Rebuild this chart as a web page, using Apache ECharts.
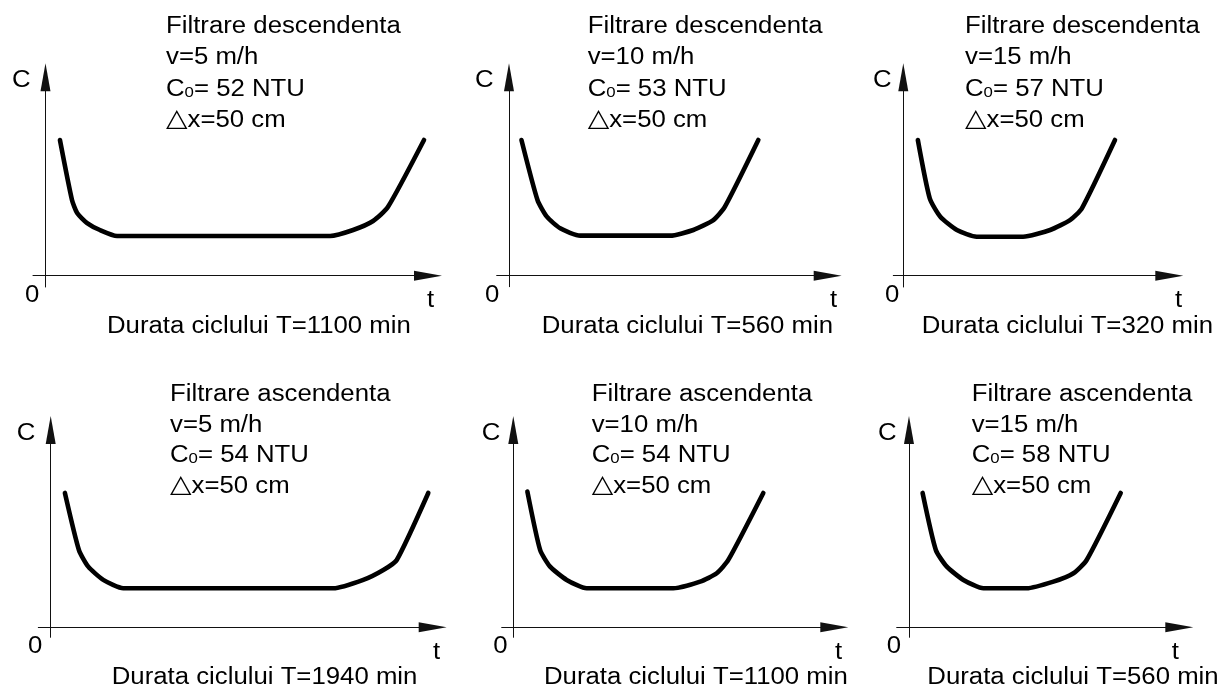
<!DOCTYPE html>
<html>
<head>
<meta charset="utf-8">
<script src="https://cdn.jsdelivr.net/npm/echarts@6/dist/echarts.min.js"></script>
<style>
html,body{margin:0;padding:0;background:#fff;}
#chart{width:1227px;height:688px;}
</style>
</head>
<body>
<div id="chart"></div>
<script>
// ---------- data ----------
const titles = ['Filtrare descendenta', 'Filtrare descendenta', 'Filtrare descendenta',
                'Filtrare ascendenta', 'Filtrare ascendenta', 'Filtrare ascendenta'];
const velocity = [5, 10, 15, 5, 10, 15];          // m/h
const c0 = [52, 53, 57, 54, 54, 58];              // NTU
const layerDepth = [50, 50, 50, 50, 50, 50];      // cm
const cycleT = [1100, 560, 320, 1940, 1100, 560]; // min
const axisNameY = 'C';
const axisNameX = 't';
const originLabel = '0';

// filtrate turbidity curves (t in min, C relative units)
const curveT = [
  [42, 77, 92, 121, 158, 208, 827, 894, 952, 995, 1100],
  [28, 64, 85, 115, 160, 362, 414, 459, 485, 560],
  [22, 40, 56, 81, 111, 181, 222, 252, 270, 320],
  [73, 145, 193, 270, 373, 1452, 1606, 1709, 1778, 1940],
  [62, 118, 162, 235, 323, 704, 822, 895, 946, 1100],
  [36, 71, 100, 144, 197, 311, 382, 435, 470, 560]
];
const curveC = [
  [100, 55.8, 46.2, 38.8, 33.7, 29.3, 29.3, 33.7, 40.3, 50.6, 100],
  [100, 55.8, 43.5, 34.9, 29.5, 29.5, 33.7, 41, 50.9, 100],
  [100, 57, 43.5, 33.7, 28.7, 28.7, 33.7, 41, 49.7, 100],
  [99, 57, 44.7, 34.9, 28.7, 28.7, 34.9, 42.2, 49.6, 99],
  [100, 57, 44.7, 34.9, 28.7, 28.7, 33.6, 39.8, 49.6, 99],
  [99, 57, 44.7, 34.9, 28.7, 28.7, 33.6, 39.8, 49.6, 99]
];

// ---------- layout (pixels) ----------
const gridBox = [ // left, top, width, height
  [33, 77.3, 395, 209.7],
  [496.7, 77.3, 331, 209.4],
  [893.3, 77.3, 276, 209.7],
  [38.3, 430, 394.4, 207.3],
  [501.7, 430, 332.6, 207.3],
  [896.7, 430, 282.6, 207.3]
];
const xRange = [[-36.3, 1111.6], [-27.6, 715.8], [-15.1, 402.1], [-63.7, 1962.7], [-51, 1412.4], [-32.5, 715]];
const yRange = [[-8.3, 146.2], [-8.1, 146.2], [-8.3, 146.2], [-7.4, 145.4], [-7.4, 145.4], [-7.4, 145.4]];

// text anchors: [x, yCenter]
const DY = 2.7;
const titleX = [166, 587.7, 965, 170, 591.7, 971.7];
const titleLineY = [[24, 55, 87.4, 117], [391.7, 422.7, 453.4, 483]];
const cPos = [[12, 78.3], [475, 78.3], [873, 78.3], [16.7, 431], [481.7, 431], [878, 431]];
const zeroPos = [[25, 292.5], [485, 292.5], [885, 292.5], [28, 644], [493.3, 644], [886.7, 644]];
const tPos = [[427, 297.7], [830, 297.7], [1175, 297.7], [433, 650], [835, 650], [1171.7, 650]];
const durPos = [[107, 323.7], [541.7, 323.7], [921.7, 323.7], [111.7, 675], [544, 675], [927.3, 675]];

const FONT = '"Liberation Sans", Arial, Helvetica, sans-serif';
const FS = 23;
const SX = 1.12;

function txt(x, y, text) {
  return {
    type: 'text', x: x, y: y + DY, scaleX: SX, silent: true,
    style: {text: text, fill: '#000', fontFamily: FONT, fontSize: FS, align: 'left', verticalAlign: 'middle'}
  };
}

const grids = [], xAxes = [], yAxes = [], series = [], graphics = [];
for (let i = 0; i < 6; i++) {
  const g = gridBox[i];
  grids.push({left: g[0], top: g[1], width: g[2], height: g[3], containLabel: false});
  const axisLine = {
    show: true, onZero: true,
    lineStyle: {color: '#111', width: 1},
    symbol: ['none', 'triangle'], symbolSize: [10, 28]
  };
  xAxes.push({type: 'value', gridIndex: i, min: xRange[i][0], max: xRange[i][1],
    axisLine: axisLine, axisTick: {show: false}, axisLabel: {show: false}, splitLine: {show: false}});
  yAxes.push({type: 'value', gridIndex: i, min: yRange[i][0], max: yRange[i][1],
    axisLine: axisLine, axisTick: {show: false}, axisLabel: {show: false}, splitLine: {show: false}});
  series.push({
    type: 'line', xAxisIndex: i, yAxisIndex: i,
    data: curveT[i].map((t, k) => [t, curveC[i][k]]),
    showSymbol: false, symbol: 'none', smooth: 0.2,
    lineStyle: {color: '#000', width: 4.6, cap: 'round', join: 'round'},
    silent: true
  });
  const row = i < 3 ? 0 : 1;
  const ly = titleLineY[row];
  graphics.push(txt(titleX[i], ly[0], titles[i]));
  graphics.push(txt(titleX[i], ly[1], 'v=' + velocity[i] + ' m/h'));
  graphics.push({
    type: 'text', x: titleX[i], y: ly[2] + DY, scaleX: SX, silent: true,
    style: {
      text: '{c|C}{s|0}{c|= ' + c0[i] + ' NTU}', fill: '#000', fontFamily: FONT, fontSize: FS,
      align: 'left', verticalAlign: 'middle',
      rich: {
        c: {fontFamily: FONT, fontSize: FS, verticalAlign: 'bottom', fill: '#000'},
        s: {fontFamily: FONT, fontSize: 15, verticalAlign: 'bottom', fill: '#000', padding: [0, 0, 1, 0]}
      }
    }
  });
  graphics.push({
    type: 'text', x: titleX[i], y: ly[3] + DY, scaleX: SX, silent: true,
    style: {
      text: '{d|\u25B3}{c|x=' + layerDepth[i] + ' cm}', fill: '#000', fontFamily: FONT, fontSize: FS,
      align: 'left', verticalAlign: 'middle',
      rich: {
        c: {fontFamily: FONT, fontSize: FS, verticalAlign: 'bottom', fill: '#000'},
        d: {fontFamily: '"DejaVu Sans", sans-serif', fontSize: 25, verticalAlign: 'bottom', fill: '#000', padding: [0, 0, 0, 0]}
      }
    }
  });
  graphics.push(txt(cPos[i][0], cPos[i][1], axisNameY));
  graphics.push(txt(zeroPos[i][0], zeroPos[i][1], originLabel));
  graphics.push(txt(tPos[i][0], tPos[i][1], axisNameX));
  graphics.push(txt(durPos[i][0], durPos[i][1], 'Durata ciclului T=' + cycleT[i] + ' min'));
}

const chart = echarts.init(document.getElementById('chart'), null, {renderer: 'canvas'});
chart.setOption({
  animation: false,
  backgroundColor: '#fff',
  textStyle: {fontFamily: FONT},
  grid: grids,
  xAxis: xAxes,
  yAxis: yAxes,
  series: series,
  graphic: graphics
});
</script>
</body>
</html>
